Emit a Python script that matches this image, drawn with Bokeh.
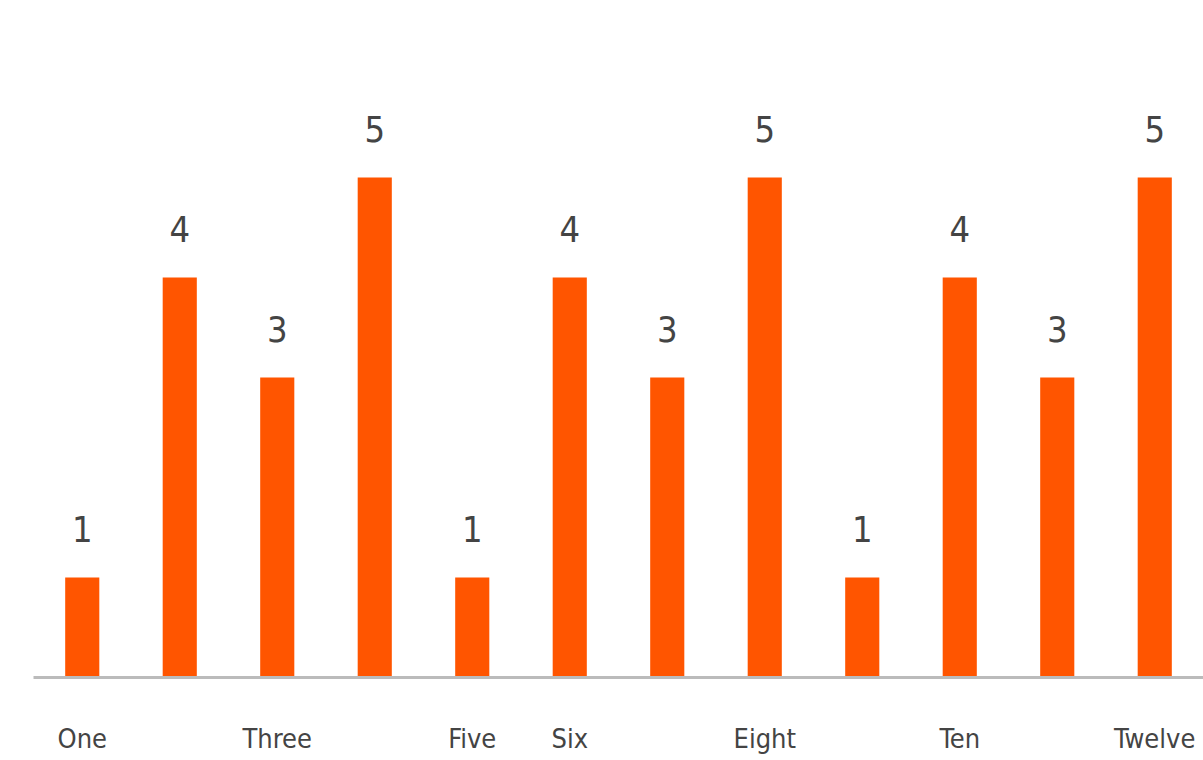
from bokeh.plotting import figure
from bokeh.models import ColumnDataSource, Range1d, FixedTicker
from bokeh.embed import file_html
from bokeh.resources import INLINE
from bokeh.core.properties import value

categories = ["One", "Two", "Three", "Four", "Five", "Six", "Seven", "Eight",
              "Nine", "Ten", "Eleven", "Twelve"]
values = [1, 4, 3, 5, 1, 4, 3, 5, 1, 4, 3, 5]
shown_labels = ["One", "Three", "Five", "Six", "Eight", "Ten", "Twelve"]

FONT = "DejaVu Sans Condensed, Roboto, sans-serif"

xs = list(range(len(categories)))
src = ColumnDataSource(dict(x=xs, val=values, txt=[str(v) for v in values]))

p = figure(x_range=Range1d(-0.5, len(categories) - 0.5), y_range=Range1d(0, 6),
           frame_width=1170, frame_height=600,
           min_border_left=33, min_border_right=0, min_border_top=77,
           output_backend="svg", toolbar_location=None)

p.vbar(x="x", top="val", width=0.35, source=src,
       fill_color="#ff5500", line_color=None)

p.text(x="x", y="val", text="txt", source=src, y_offset=-36,
       text_align="center", text_baseline="bottom",
       text_font=value(FONT), text_font_size="36px", text_color="#444444")

p.yaxis.visible = False
p.xgrid.visible = False
p.ygrid.visible = False
p.outline_line_color = None

ax = p.xaxis[0]
ax.ticker = FixedTicker(ticks=[categories.index(c) for c in shown_labels], minor_ticks=[])
ax.major_label_overrides = {categories.index(c): c for c in shown_labels}
ax.axis_line_color = "#bbbbbb"
ax.axis_line_width = 3
ax.major_tick_line_color = None
ax.minor_tick_line_color = None
ax.major_label_standoff = 39
ax.major_label_text_font = FONT
ax.major_label_text_font_size = "27px"
ax.major_label_text_color = "#444444"

open("out.html", "w").write(file_html(p, INLINE))
